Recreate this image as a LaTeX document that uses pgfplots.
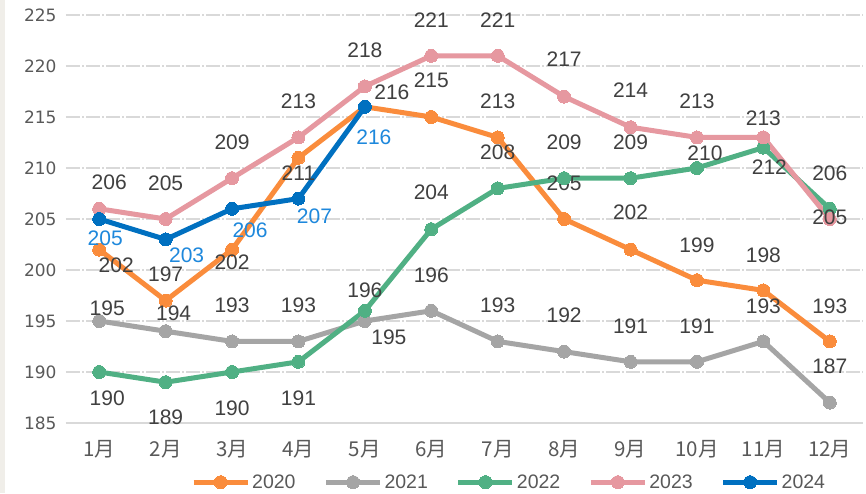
\documentclass[border=0pt]{standalone}
\usepackage{pgfplots}
\pgfplotsset{compat=1.18}
\usepackage{pgfplotstable}
\usepackage{fontspec}
\setmainfont{Liberation Sans}
\newfontfamily\cjk{Noto Sans CJK SC}
\newfontfamily\tickfont{DejaVu Sans}
\definecolor{cOr}{RGB}{250,140,60}
\definecolor{cGr}{RGB}{165,165,165}
\definecolor{cGn}{RGB}{80,176,132}
\definecolor{cPk}{RGB}{230,152,160}
\definecolor{cBl}{RGB}{0,112,192}
\definecolor{cBlT}{RGB}{30,136,220}
\definecolor{cTxt}{RGB}{64,64,64}
\definecolor{cTick}{RGB}{89,89,89}
\definecolor{cGrid}{RGB}{217,217,217}
\definecolor{cStrip}{RGB}{240,238,233}

\pgfplotstableread{
x y dx dy
1 202 17 -16
2 197 0 26
3 202 0 -13
4 211 0 -15
5 216 27 15
6 215 0 37
7 213 0 36
8 205 0 36
9 202 0 37
10 199 0 35
11 198 0 35
12 193 0 35
}\tA
\pgfplotstableread{
x y dx dy
1 195 8 13
2 194 8 18
3 193 0 36
4 193 0 36
5 195 24 -16
6 196 0 36
7 193 0 36
8 192 0 36
9 191 0 36
10 191 0 36
11 193 0 35
12 187 0 36
}\tB
\pgfplotstableread{
x y dx dy
1 190 8 -26
2 189 0 -35
3 190 0 -36
4 191 0 -36
5 196 0 21
6 204 0 37
7 208 0 36
8 209 0 36
9 209 0 36
10 210 8 15
11 212 6 -20
12 206 0 36
}\tC
\pgfplotstableread{
x y dx dy
1 206 10 27
2 205 0 36
3 209 0 36
4 213 0 36
5 218 0 36
6 221 0 36
7 221 0 36
8 217 0 37
9 214 0 37
10 213 0 36
11 213 0 19
12 205 0 2
}\tD
\pgfplotstableread{
x y dx dy
1 205 6 -19
2 203 21 -16
3 206 18 -21
4 207 16 -18
5 216 9 -30
}\tE

\pgfplotsset{
  lbl/.style={
    nodes near coords,
    point meta=y,
    visualization depends on={\thisrow{dx} \as \ldx},
    visualization depends on={\thisrow{dy} \as \ldy},
    every node near coord/.append style={anchor=center, xshift=\ldx pt, yshift=\ldy pt,
      font=\fontsize{21}{25}\selectfont, text=#1, inner sep=0pt},
  },
  ser/.style={color=#1, line width=5pt, mark=*, mark size=6.5pt,
    mark options={solid, fill=#1, draw=#1, line width=0pt}},
}

\begin{document}
\begin{tikzpicture}
\fill[white] (-66pt,-70pt) rectangle (800pt,423pt);
\fill[cStrip] (-66pt,-70pt) rectangle (-61pt,423pt);
\path[use as bounding box] (-66pt,-70pt) rectangle (800pt,423pt);
\begin{axis}[
  at={(0,0)}, anchor=south west,
  scale only axis, width=797pt, height=408pt,
  xmin=0.5, xmax=12.5, ymin=185, ymax=225,
  xtick={1,...,12},
  xticklabels={1月,2月,3月,4月,5月,6月,7月,8月,9月,10月,11月,12月},
  xticklabel style={font=\cjk\fontsize{20.5}{24}\selectfont, text=cTick, yshift=-14pt},
  ytick={185,190,...,225},
  yticklabel style={font=\tickfont\fontsize{17}{20}\selectfont, text=cTick, xshift=-6pt},
  /pgf/number format/assume math mode=true,
  ymajorgrids, grid style={cGrid, line width=1.2pt, dash pattern=on 14pt off 2pt on 2pt off 2pt},
  axis x line*=bottom, axis y line*=left,
  x axis line style={cGrid, line width=1.2pt, -},
  y axis line style={draw=none},
  major tick length=0pt,
  clip=false,
  legend columns=5,
  legend style={draw=none, fill=none, at={(0.556,-0.145)}, anchor=center,
    font=\fontsize{19.5}{22}\selectfont, text=cTick,
    /tikz/every even column/.append style={column sep=26pt}},
  legend image code/.code={
    \draw[#1, mark=none] (0pt,0pt) -- (54pt,0pt);
    \draw[#1, only marks] plot coordinates {(27pt,0pt)};
  },
]
\addplot[ser=cOr, lbl=cTxt] table[x=x,y=y] {\tA};
\addlegendentry{2020}
\addplot[ser=cGr, lbl=cTxt] table[x=x,y=y] {\tB};
\addlegendentry{2021}
\addplot[ser=cGn, lbl=cTxt] table[x=x,y=y] {\tC};
\addlegendentry{2022}
\addplot[ser=cPk, lbl=cTxt] table[x=x,y=y] {\tD};
\addlegendentry{2023}
\addplot[ser=cBl, lbl=cBlT] table[x=x,y=y] {\tE};
\addlegendentry{2024}
\end{axis}
\end{tikzpicture}
\end{document}
